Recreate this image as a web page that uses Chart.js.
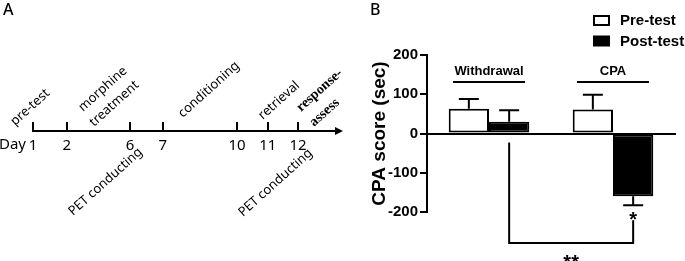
<!DOCTYPE html>
<html>
<head>
<meta charset="utf-8">
<script src="https://cdn.jsdelivr.net/npm/chart.js@4.4.0/dist/chart.umd.min.js"></script>
<style>
  html, body { margin: 0; padding: 0; background: #fff; }
  #wrap { position: relative; width: 685px; height: 261px; overflow: hidden; }
  #chartA { position: absolute; left: 0; top: 0; }
  #chartB { position: absolute; left: 345px; top: 0; }
</style>
</head>
<body>
<div id="wrap">
  <canvas id="chartA" width="345" height="261"></canvas>
  <canvas id="chartB" width="340" height="261"></canvas>
</div>
<script>
// ---- panel A: experiment timeline ----
const days = [1, 2, 6, 7, 10, 11, 12];
// spacing of the days as drawn on the schematic (not to scale)
const daySlot = [0, 1, 2.86, 3.83, 6.02, 6.93, 7.82];
const eventText = [['pre-test'], ['morphine', 'treatment'], ['conditioning'], ['retrieval'], ['response-', 'assess']];
const eventDay = [1, 2, 7, 11, 12];
const petDay = [6, 12];

// ---- panel B: CPA scores ----
const groups = ['Withdrawal', 'CPA'];
const preTest = [63, 61];
const postTest = [30, -160];
const preSem = [25, 38];
const postSem = [29, 23];
const yTicks = [-200, -100, 0, 100, 200];

const ANG = -42 * Math.PI / 180;
const fontA = '"Noto Sans", sans-serif';
const fontB = '"Liberation Sans", Arial, sans-serif';

function slotOf(day) { return daySlot[days.indexOf(day)]; }

// label offsets (px) from the day mark on the axis: [dx, dy] per line
const eventOffsets = [
  [[-18, -5]],
  [[16, -19], [27, -4]],
  [[20, -13]],
  [[-5, -11]],
  [[3, -19], [16, -4]]
];
const petOffsets = [[13, 22], [15, 23]];

const timeline = {
  id: 'timeline',
  afterDraw(chart) {
    const ctx = chart.ctx, x = chart.scales.x, a = chart.chartArea;
    const base = a.bottom;
    ctx.save();
    ctx.strokeStyle = '#000';
    ctx.fillStyle = '#000';
    ctx.lineWidth = 2;
    // day marks above the line
    x.ticks.forEach(t => {
      const px = Math.round(x.getPixelForValue(t.value));
      ctx.beginPath();
      ctx.moveTo(px, base - 9);
      ctx.lineTo(px, base);
      ctx.stroke();
    });
    // arrow head
    ctx.beginPath();
    ctx.moveTo(a.right - 3, base - 4);
    ctx.lineTo(a.right + 5, base);
    ctx.lineTo(a.right - 3, base + 4);
    ctx.closePath();
    ctx.fill();
    // "Day"
    ctx.font = '15px ' + fontA;
    ctx.textAlign = 'right';
    ctx.textBaseline = 'top';
    ctx.fillText('Day', x.getPixelForValue(slotOf(1)) - 7, base + 6);
    // panel letter
    ctx.textAlign = 'left';
    ctx.textBaseline = 'alphabetic';
    ctx.font = '500 16px ' + fontA;
    ctx.fillText('A', 3, 15);
    // event labels
    eventText.forEach((lines, i) => {
      const px = x.getPixelForValue(slotOf(eventDay[i]));
      lines.forEach((txt, k) => {
        const [dx, dy] = eventOffsets[i][k];
        ctx.save();
        ctx.translate(px + dx, base + dy);
        ctx.rotate(ANG);
        ctx.font = (eventDay[i] === 12 ? 'bold 14px "Liberation Serif", serif' : '13px ' + fontA);
        ctx.textAlign = 'left';
        ctx.fillText(txt, 0, 0);
        ctx.restore();
      });
    });
    petDay.forEach((d, i) => {
      const px = x.getPixelForValue(slotOf(d));
      ctx.save();
      ctx.translate(px + petOffsets[i][0], base + petOffsets[i][1]);
      ctx.rotate(ANG);
      ctx.font = '13px ' + fontA;
      ctx.textAlign = 'right';
      ctx.fillText('PET conducting', 0, 0);
      ctx.restore();
    });
    ctx.restore();
  }
};

new Chart(document.getElementById('chartA'), {
  type: 'scatter',
  data: { datasets: [{ data: days.map((d, i) => ({ x: daySlot[i], y: 0 })), pointRadius: 0 }] },
  options: {
    responsive: false,
    animation: false,
    events: [],
    layout: { padding: { left: 33, right: 7, top: 0, bottom: 0 } },
    plugins: { legend: { display: false }, tooltip: { enabled: false } },
    scales: {
      x: {
        type: 'linear', min: 0, max: 9,
        afterBuildTicks: s => { s.ticks = daySlot.map(v => ({ value: v })); },
        afterFit: s => { s.height = 130; },
        ticks: {
          autoSkip: false, maxRotation: 0, padding: 6, color: '#000',
          font: { family: fontA, size: 15 },
          callback: (v, i) => days[i]
        },
        grid: { display: false, drawTicks: false },
        border: { color: '#000', width: 2 }
      },
      y: { display: false, min: 0, max: 1 }
    }
  },
  plugins: [timeline]
});

// ---- panel B plugins ----
const errorBars = {
  id: 'errorBars',
  afterDatasetsDraw(chart) {
    const ctx = chart.ctx, y = chart.scales.y;
    ctx.save();
    ctx.strokeStyle = '#000';
    ctx.lineWidth = 2;
    chart.data.datasets.forEach((ds, i) => {
      chart.getDatasetMeta(i).data.forEach((bar, j) => {
        const v = ds.data[j], e = ds.err[j];
        const end = y.getPixelForValue(v < 0 ? v - e : v + e);
        ctx.beginPath();
        ctx.moveTo(bar.x, bar.y);
        ctx.lineTo(bar.x, end);
        ctx.moveTo(bar.x - 10, end);
        ctx.lineTo(bar.x + 10, end);
        ctx.stroke();
      });
    });
    ctx.restore();
  }
};

const decorB = {
  id: 'decorB',
  afterDraw(chart) {
    const ctx = chart.ctx, a = chart.chartArea, y = chart.scales.y;
    const m0 = chart.getDatasetMeta(0), m1 = chart.getDatasetMeta(1);
    ctx.save();
    ctx.fillStyle = '#000';
    ctx.strokeStyle = '#000';
    ctx.lineWidth = 2;
    // panel letter
    ctx.font = '500 16px ' + fontA;
    ctx.textAlign = 'left';
    ctx.fillText('B', 25, 15);
    // group labels with lines
    groups.forEach((g, j) => {
      const cx = (m0.data[j].x + m1.data[j].x) / 2;
      ctx.font = 'bold 13px ' + fontB;
      ctx.textAlign = 'center';
      ctx.textBaseline = 'middle';
      ctx.fillText(g, cx, a.top + 16);
      ctx.beginPath();
      ctx.moveTo(cx - 36, a.top + 27);
      ctx.lineTo(cx + 36, a.top + 27);
      ctx.stroke();
    });
    // legend
    ctx.font = 'bold 15px ' + fontB;
    ctx.textAlign = 'left';
    ctx.textBaseline = 'middle';
    chart.data.datasets.forEach((ds, i) => {
      const bx = a.right - 81, by = 16 + i * 20.5;
      ctx.fillStyle = ds.backgroundColor;
      ctx.fillRect(bx, by, 15, 9);
      ctx.strokeStyle = ds.borderColor;
      ctx.strokeRect(bx, by, 15, 9);
      ctx.fillStyle = '#000';
      ctx.fillText(ds.label, a.right - 55, by + 5);
    });
    // significance bracket
    const xl = m1.data[0].x, xr = m1.data[1].x;
    const capY = y.getPixelForValue(postTest[1] - postSem[1]);
    const bottom = a.bottom + 31;
    ctx.beginPath();
    ctx.moveTo(xl, y.getPixelForValue(0) + 9);
    ctx.lineTo(xl, bottom);
    ctx.lineTo(xr, bottom);
    ctx.lineTo(xr, capY + 15);
    ctx.stroke();
    ctx.font = 'bold 20px ' + fontB;
    ctx.textAlign = 'center';
    ctx.textBaseline = 'alphabetic';
    ctx.fillText('*', xr, capY + 9 + 11.6);
    ctx.fillText('**', (xl + xr) / 2, bottom + 14 + 11.6);
    ctx.restore();
  }
};

new Chart(document.getElementById('chartB'), {
  type: 'bar',
  data: {
    labels: groups,
    datasets: [
      { label: 'Pre-test', data: preTest, err: preSem, backgroundColor: '#ffffff', borderColor: '#000000',
        borderWidth: 2, borderSkipped: false, categoryPercentage: 0.65, barPercentage: 1 },
      { label: 'Post-test', data: postTest, err: postSem, backgroundColor: '#000000', borderColor: '#000000',
        borderWidth: 2, borderSkipped: false, categoryPercentage: 0.65, barPercentage: 1 }
    ]
  },
  options: {
    responsive: false,
    animation: false,
    events: [],
    layout: { padding: { left: 21, top: 55, right: 10, bottom: 49 } },
    plugins: { legend: { display: false }, tooltip: { enabled: false } },
    scales: {
      x: {
        position: { y: 0 },
        ticks: { display: false },
        grid: { display: false },
        border: { color: '#000', width: 2 }
      },
      y: {
        min: -200, max: 200,
        afterBuildTicks: s => { s.ticks = yTicks.map(v => ({ value: v })); },
        afterFit: s => { s.width = 61; },
        ticks: { color: '#000', padding: 2, font: { family: fontB, size: 15, weight: 'bold' } },
        grid: { drawOnChartArea: false, color: '#000', lineWidth: 2, tickLength: 7 },
        border: { color: '#000', width: 2 },
        title: {
          display: true, text: 'CPA score (sec)', color: '#000',
          font: { family: fontB, size: 19, weight: 'bold' }, padding: { top: 2, bottom: 0 }
        }
      }
    }
  },
  plugins: [errorBars, decorB]
});
</script>
</body>
</html>
